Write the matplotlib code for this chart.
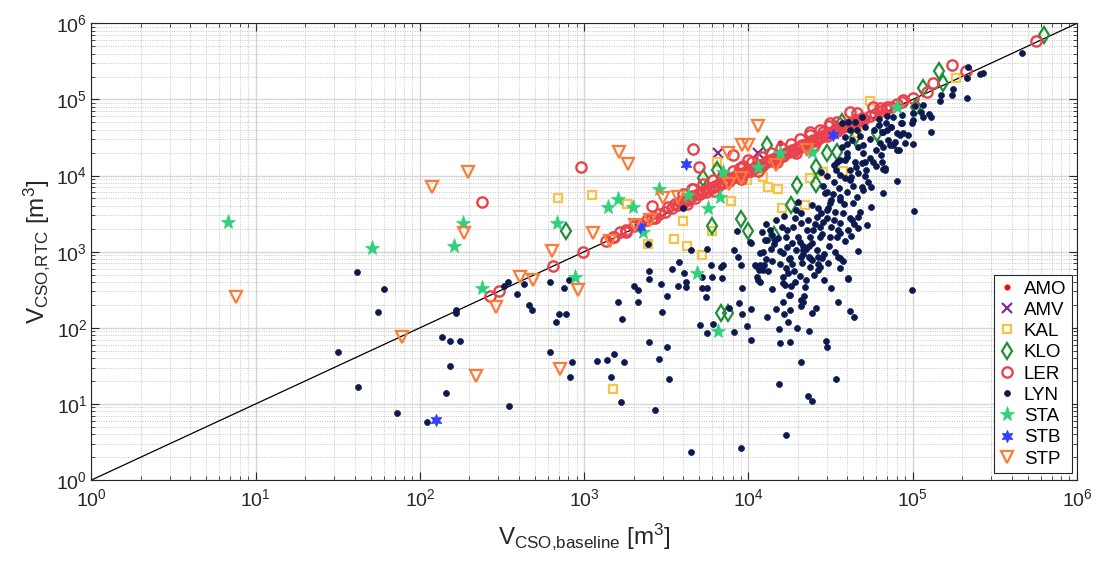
import numpy as np
import matplotlib
matplotlib.use('Agg')
import matplotlib.pyplot as plt
from matplotlib.ticker import LogLocator, NullFormatter

plt.rcParams['font.family'] = ['Liberation Sans', 'DejaVu Sans']
plt.rcParams['mathtext.default'] = 'regular'

# ---------------------------------------------------------------------------
# CSO volumes per catchment [m3]: baseline (x) vs. RTC (y)
# ---------------------------------------------------------------------------
amo_x = [15500]
amo_y = [27000]

amv_x = [6500, 11400]
amv_y = [20000, 19500]

kal_x = [695, 1110, 1830, 2430, 3970, 3520, 4200, 5240, 6400, 7790, 5970, 9750,
         1500, 12300, 13200, 15200, 15900, 22100, 23700, 28300, 37500, 55000,
         45600, 183000]
kal_y = [5130, 5560, 4230, 1260, 2530, 1470, 1190, 905, 15200, 4680, 1870, 8750,
         15.7, 9500, 7150, 6600, 3720, 4110, 9200, 11000, 11500, 96000,
         36000, 190000]

klo_x = [774, 5300, 6400, 5970, 9000, 10000, 6770, 7470, 13000, 19700, 18100,
         14200, 25800, 25800, 29900, 34400, 36900, 44500, 60300, 105000, 115000,
         145000, 152000, 632000]
klo_y = [1870, 9200, 11900, 2200, 2690, 1890, 155, 155, 25200, 7500, 4110,
         1660, 13100, 7700, 19600, 20600, 51000, 32500, 36000, 80500, 140000,
         239000, 163000, 704000]

ler_x = [237, 951, 267, 304, 648, 987, 1800, 1520, 2570, 4570, 5000, 4500, 8070,
         10000, 8870, 23700, 28500, 31300, 34400, 41500, 45500, 57500, 63000,
         70000, 87700, 101000, 122000, 133000, 173000, 211000, 563000,
         1350, 1500, 1650, 1800, 2000, 2200, 2400, 2600, 2850, 3100, 3400, 3700,
         4000, 4300, 4700, 5100, 5500, 6000, 6500, 7000, 7600, 8200, 8900, 9600,
         10400, 11200, 12100, 13000, 14000, 15100, 16300, 17600, 19000, 20500,
         22100, 23800, 25700, 27700, 29900, 32300, 34800, 37500, 40500, 43700,
         47100, 50800, 54800, 59100, 63800, 68800, 74200, 80000, 86000,
         6200, 9000, 15000, 25000, 4200, 2700, 11500, 19500,
         3250, 3550, 3850, 4150, 4500, 4900, 5300, 5750, 6250, 6750, 7300, 7900,
         8550, 9250, 10000, 10800, 11650, 12550, 13500, 14550, 15700, 16900,
         18300, 19700, 21300, 23000, 24700, 26700, 28800, 31100, 33500, 36100,
         39000, 42100, 45400, 49000,
         4000, 4600, 5300, 6100, 7000, 8000, 9200, 10500, 12000, 13800, 15800,
         18100, 20700, 23700, 27100, 31000]
ler_y = [4540, 13100, 264, 305, 655, 982, 1830, 1570, 3980, 22400, 13100, 6600,
         18700, 16000, 12500, 37800, 37800, 48700, 50000, 69000, 66000, 80500,
         78000, 80000, 98500, 104000, 127000, 163000, 284000, 237000, 593000,
         1400, 1550, 1800, 1900, 2150, 2300, 2600, 2800, 3100, 3300, 3700, 4100,
         4300, 4800, 5100, 5700, 6000, 6800, 7200, 8000, 8400, 9500, 9800, 11200,
         11500, 13200, 13400, 15300, 15500, 17500, 18000, 20500, 21000, 24000,
         24500, 28000, 28500, 32000, 33000, 37000, 38000, 43000, 44500, 49000,
         52000, 56000, 60000, 65000, 70000, 75000, 80000, 86000, 92000,
         6300, 9100, 15200, 25300, 4250, 2750, 11600, 19700,
         3830, 4190, 4540, 4900, 5310, 5780, 6250, 6790, 7380, 7970, 8610, 9320,
         10100, 10900, 11800, 12700, 13700, 14800, 15900, 17200, 18500, 19900,
         21600, 23200, 25100, 27100, 29100, 31500, 34000, 36700, 39500, 42600,
         46000, 49700, 53600, 57800,
         5800, 6670, 7690, 8850, 10150, 11600, 13300, 15200, 17400, 20000, 22900,
         26200, 30000, 34400, 39300, 45000]

lyn_x = [41.5, 60.6, 55.2, 31.8, 41.8, 72.1, 166, 166, 137, 152, 175, 152, 144,
         111, 350, 463, 479, 702, 771, 673, 618, 846, 819, 1190, 1370, 1520, 1740,
         1450, 1670, 1600, 2110, 1700, 2490, 2960, 3180, 2860, 3280, 2700, 4470,
         5070, 5610, 6100, 7640, 8750, 9080, 9750, 8160, 10400, 10400, 8960,
         388, 431, 345, 325, 618, 753, 805, 2010, 2130, 2430, 2490, 2490, 2930,
         3200, 3430, 3700, 3790, 4050, 4150, 4150, 3970, 4470, 5560, 5910, 5190,
         5240, 5560, 5970, 5520, 6800, 7000, 6900, 8160, 8660, 8460, 10300, 8960,
         11100, 9080, 11500, 15300, 34000, 22900, 24300, 17000,
         11600, 11200, 11800, 12400, 12800, 11700, 12300, 13000, 14200, 13900,
         15500, 16200, 17100, 17000, 17700, 17000, 16300, 16300, 18100, 19200,
         13900, 17700, 16300, 14700, 13000, 16500, 18000, 17500, 15400, 15500,
         18000, 19800, 21400, 21000, 20900, 21900, 20800, 23400, 24500, 25800,
         21600, 21400, 21200, 23400, 24300, 23700, 26600, 26600, 23400, 28900,
         34900, 37800, 36000, 40500, 35000, 41500, 43900, 46200, 29500, 29900,
         34700, 28100, 12300,
         68000, 80000, 66000, 102000, 99000, 460000, 218000, 267000, 255000,
         215000, 177000, 173000, 215000, 149000, 147000, 115000, 103000, 113000,
         101000, 115000, 125000, 129000, 100000, 99000, 86000, 86000, 76000,
         74000, 69500, 65000, 84000, 94000, 100000, 129000, 78000, 82000, 73000,
         66000, 63000, 65000, 68000,
         36900, 40500, 44500, 48800, 51000, 45500, 41500, 62000, 69000, 74000,
         85000, 87500, 66000, 71000, 76000, 80000, 38600, 42500, 46600, 50000,
         36900, 39600, 34400, 38600, 44500, 51000, 57500, 66000, 41500, 46600,
         51000, 53600, 48800, 43500, 39600, 36000, 32000, 29200, 28500, 30600,
         33600, 37800, 41500, 46600, 52400, 46600, 40600, 36000, 32000, 28500,
         26200, 24200, 26600, 29900, 27200, 24800, 22600, 21000, 19200, 18700,
         17100, 15900, 23700, 27200, 31300, 35200, 20100, 19500, 36000, 34000,
         38600, 60000, 64500, 89500,
         56000, 56000, 42500, 36000, 40500, 26600, 27200, 23700, 21600, 21000,
         17900, 16700, 14500, 13800, 11700, 10900, 12600, 10200, 17900, 22100,
         20100, 21000, 29900, 32800, 36000, 31300, 41500, 48900, 52000, 36000,
         39600, 80000,
         12000, 12800, 13500, 14800, 16500, 15200, 18500, 19500, 20500, 22500,
         24500, 26000, 23000, 25500, 27500, 30000, 33000, 36000, 38500, 42000,
         44000, 48000, 31000, 33500, 28000, 30500, 19000, 20500, 22500, 18500,
         14000, 13200, 15500, 17500, 25000, 29000, 32000, 42000, 45000, 55000,
         60000, 50000, 55000, 58000, 62000, 70000, 48000, 40000, 33000, 30000,
         27500, 35500, 45500, 38000, 50000, 43000, 33000]
lyn_y = [536, 321, 160, 48.5, 16.5, 7.5, 171, 155, 75, 68, 68, 31, 14,
         5.7, 9.4, 199, 171, 152, 152, 118, 48.5, 35, 22.6, 37, 38, 45, 35,
         22.4, 10.7, 220, 220, 130, 66, 161, 56, 39, 21.4, 8.4, 2.36,
         109, 86, 111, 184, 214, 150, 106, 89, 68.5, 175, 2.66,
         275, 376, 403, 354, 396, 330, 425, 358, 314, 1260, 558, 434, 373,
         264, 593, 358, 739, 530, 403, 347, 3790, 1050, 1070, 669, 470,
         337, 330, 470, 252, 635, 669, 447, 1050, 859, 1890, 1310, 669,
         655, 330, 425, 18.1, 21.2, 12.8, 10.8, 3.87,
         580, 470, 400, 669, 795, 953, 990, 1430, 1260, 1660,
         1030, 960, 1160, 1550, 795, 605, 470, 384, 354, 403,
         321, 270, 216, 175, 137, 150, 170, 118, 96.5, 63.7,
         66, 99, 220, 195, 235, 264, 35.9, 91.6, 155, 184,
         1190, 933, 717, 859, 778, 624, 683, 575, 1190, 933,
         859, 762, 605, 434, 220, 166, 137, 1030, 67, 56.5,
         1570, 1710, 575,
         11900, 8600, 5970, 3430, 314, 405000, 270000, 220000, 215000,
         190000, 136000, 115000, 106000, 115000, 94000, 85000, 82000, 69000,
         66000, 59600, 64500, 59600, 54000, 49600, 48700, 63000, 59600,
         44000, 39800, 37800, 34200, 34200, 26000, 37800, 28000, 21700, 25200,
         24000, 26500, 15200, 12500,
         48700, 51000, 51000, 59600, 44000, 39700, 39700, 46000, 48700, 44000,
         48700, 36000, 37800, 29400, 25200, 21700, 32500, 29400, 24000, 19600,
         24000, 19600, 15200, 16000, 15200, 15200, 15200, 12100, 11900, 10900,
         9900, 8300, 7000, 7200, 6150, 5300, 4800, 5850, 7200, 3720,
         3360, 3190, 2750, 2890, 2240, 2030, 1930, 1740, 2130, 2480,
         2890, 4110, 3720, 2750, 2130, 1930, 1930, 2360, 2750, 2130,
         1930, 2130, 1580, 1580, 1580, 1930, 1580, 3500, 10200, 12000,
         9200, 21700, 18700, 26500,
         7100, 3900, 2600, 817, 447, 859, 635, 817, 1050, 859,
         817, 365, 1420, 1100, 668, 668, 1420, 1350, 269, 347,
         4540, 3190, 6100, 5800, 4770, 4300, 8700, 14500, 11800, 16000,
         17700, 36000,
         1800, 2300, 1900, 2600, 2900, 1500, 1300, 1050, 1350, 1100,
         1300, 1050, 2600, 2300, 3200, 3500, 2600, 2400, 1400, 1600,
         2300, 3300, 1200, 980, 820, 700, 560, 480, 420, 680,
         760, 560, 680, 520, 500, 420, 330, 9500, 13000, 17000,
         13500, 25000, 30000, 40000, 55000, 60000, 33000, 26000, 8200, 9800,
         11000, 6800, 5200, 4200, 6400, 4400, 13800]

sta_x = [6.8, 50.8, 184, 161, 237, 686, 879, 1400, 1610, 1990, 2860, 2290, 4830,
         5700, 6700, 7000, 6550, 11500, 15500, 24300, 79800, 4300]
sta_y = [2480, 1110, 2360, 1200, 330, 2400, 460, 3830, 4920, 3830, 6600, 1830, 520,
         3720, 5280, 11300, 92, 13100, 19600, 20600, 80500, 5560]

stb_x = [126, 2180, 4160, 32800]
stb_y = [6.1, 2130, 14100, 34000]

stp_x = [7.55, 77.4, 219, 290, 712, 118, 197, 185, 406, 489, 634, 912, 1130,
         1630, 1850, 1430, 2040, 2510, 3030, 3700, 7530, 9080, 10000, 8960, 7600,
         11500, 14800, 22600]
stp_y = [256, 75, 23.3, 190, 28.5, 7000, 11300, 1780, 460, 425, 1030, 314, 1750,
         20600, 14200, 1400, 2240, 2610, 5030, 5280, 19600, 25200, 25200, 9200, 7760,
         44900, 13800, 21700]

one_to_one = [1, 1e6]

sites = ['AMO', 'AMV', 'KAL', 'KLO', 'LER', 'LYN', 'STA', 'STB', 'STP']
site_x = [amo_x, amv_x, kal_x, klo_x, ler_x, lyn_x, sta_x, stb_x, stp_x]
site_y = [amo_y, amv_y, kal_y, klo_y, ler_y, lyn_y, sta_y, stb_y, stp_y]

# marker styles (MATLAB-like)
STYLES = {
    'AMO': dict(marker='o', ms=3.8, color='#ff0000', mfc='#ff0000', mew=0.5),
    'AMV': dict(marker='x', ms=6.5, color='#7e2f8e', mew=1.6),
    'KAL': dict(marker='s', ms=6.0, color='#f6c546', mfc='none', mew=1.6),
    'KLO': dict(marker='d', ms=8.5, color='#1e8f35', mfc='none', mew=1.6),
    'LER': dict(marker='o', ms=7.4, color='#e9424c', mfc='none', mew=1.7),
    'LYN': dict(marker='o', ms=4.3, color='#0c1a4f', mfc='#0c1a4f', mew=0.5),
    'STA': dict(marker='*', ms=11, color='#2dd27b', mfc='#2dd27b', mew=0.5),
    'STB': dict(marker=(6, 1, 0), ms=9, color='#3340ff', mfc='#3340ff', mew=0.5),
    'STP': dict(marker='v', ms=8.5, color='#fd7b35', mfc='none', mew=1.6),
}

fig = plt.figure(figsize=(11.01, 5.62), dpi=100, facecolor='white')
ax = fig.add_axes([0.0831, 0.1459, 0.8951, 0.8126])
ax.set_xscale('log')
ax.set_yscale('log')

ax.plot(one_to_one, one_to_one, color='black', lw=0.9, zorder=2)

for name, xs, ys in zip(sites, site_x, site_y):
    ax.plot(xs, ys, linestyle='none', label=name, zorder=3, **STYLES[name])

ax.set_xlim(1, 1e6)
ax.set_ylim(1, 1e6)

for axis in (ax.xaxis, ax.yaxis):
    axis.set_major_locator(LogLocator(base=10, numticks=10))
    axis.set_minor_locator(LogLocator(base=10, subs=np.arange(2, 10), numticks=20))
    axis.set_minor_formatter(NullFormatter())

ax.grid(which='major', color='#d6d6d6', lw=1.0, ls='-', zorder=0)
ax.grid(which='minor', color='#c4c4c4', lw=0.7, ls=(0, (1, 1.5)), zorder=0)
ax.set_axisbelow(True)

ax.tick_params(which='both', direction='in', top=True, right=True,
               colors='#262626', labelsize=14)
ax.tick_params(which='major', length=6, width=0.8)
ax.tick_params(which='minor', length=3, width=0.6)
ax.tick_params(axis='x', pad=6)
ax.tick_params(axis='y', pad=3)
for spine in ax.spines.values():
    spine.set_color('#262626')
    spine.set_linewidth(0.8)

ax.set_xlabel(r'$V_{CSO{,}baseline}$ [m$^{3}$]', fontsize=17.5, color='#262626',
              labelpad=8)
ax.set_ylabel(r'$V_{CSO{,}RTC}$ [m$^{3}$]', fontsize=17.5, color='#262626',
              labelpad=3)

leg = ax.legend(loc='lower right', bbox_to_anchor=(0.995, 0.015), fontsize=13.5,
                frameon=True, fancybox=False, framealpha=1, edgecolor='#262626',
                handlelength=0.8, handletextpad=0.5, borderpad=0.3,
                labelspacing=0.22, borderaxespad=0)
leg.get_frame().set_linewidth(0.8)

fig.savefig('out.png', dpi=100, facecolor='white')
